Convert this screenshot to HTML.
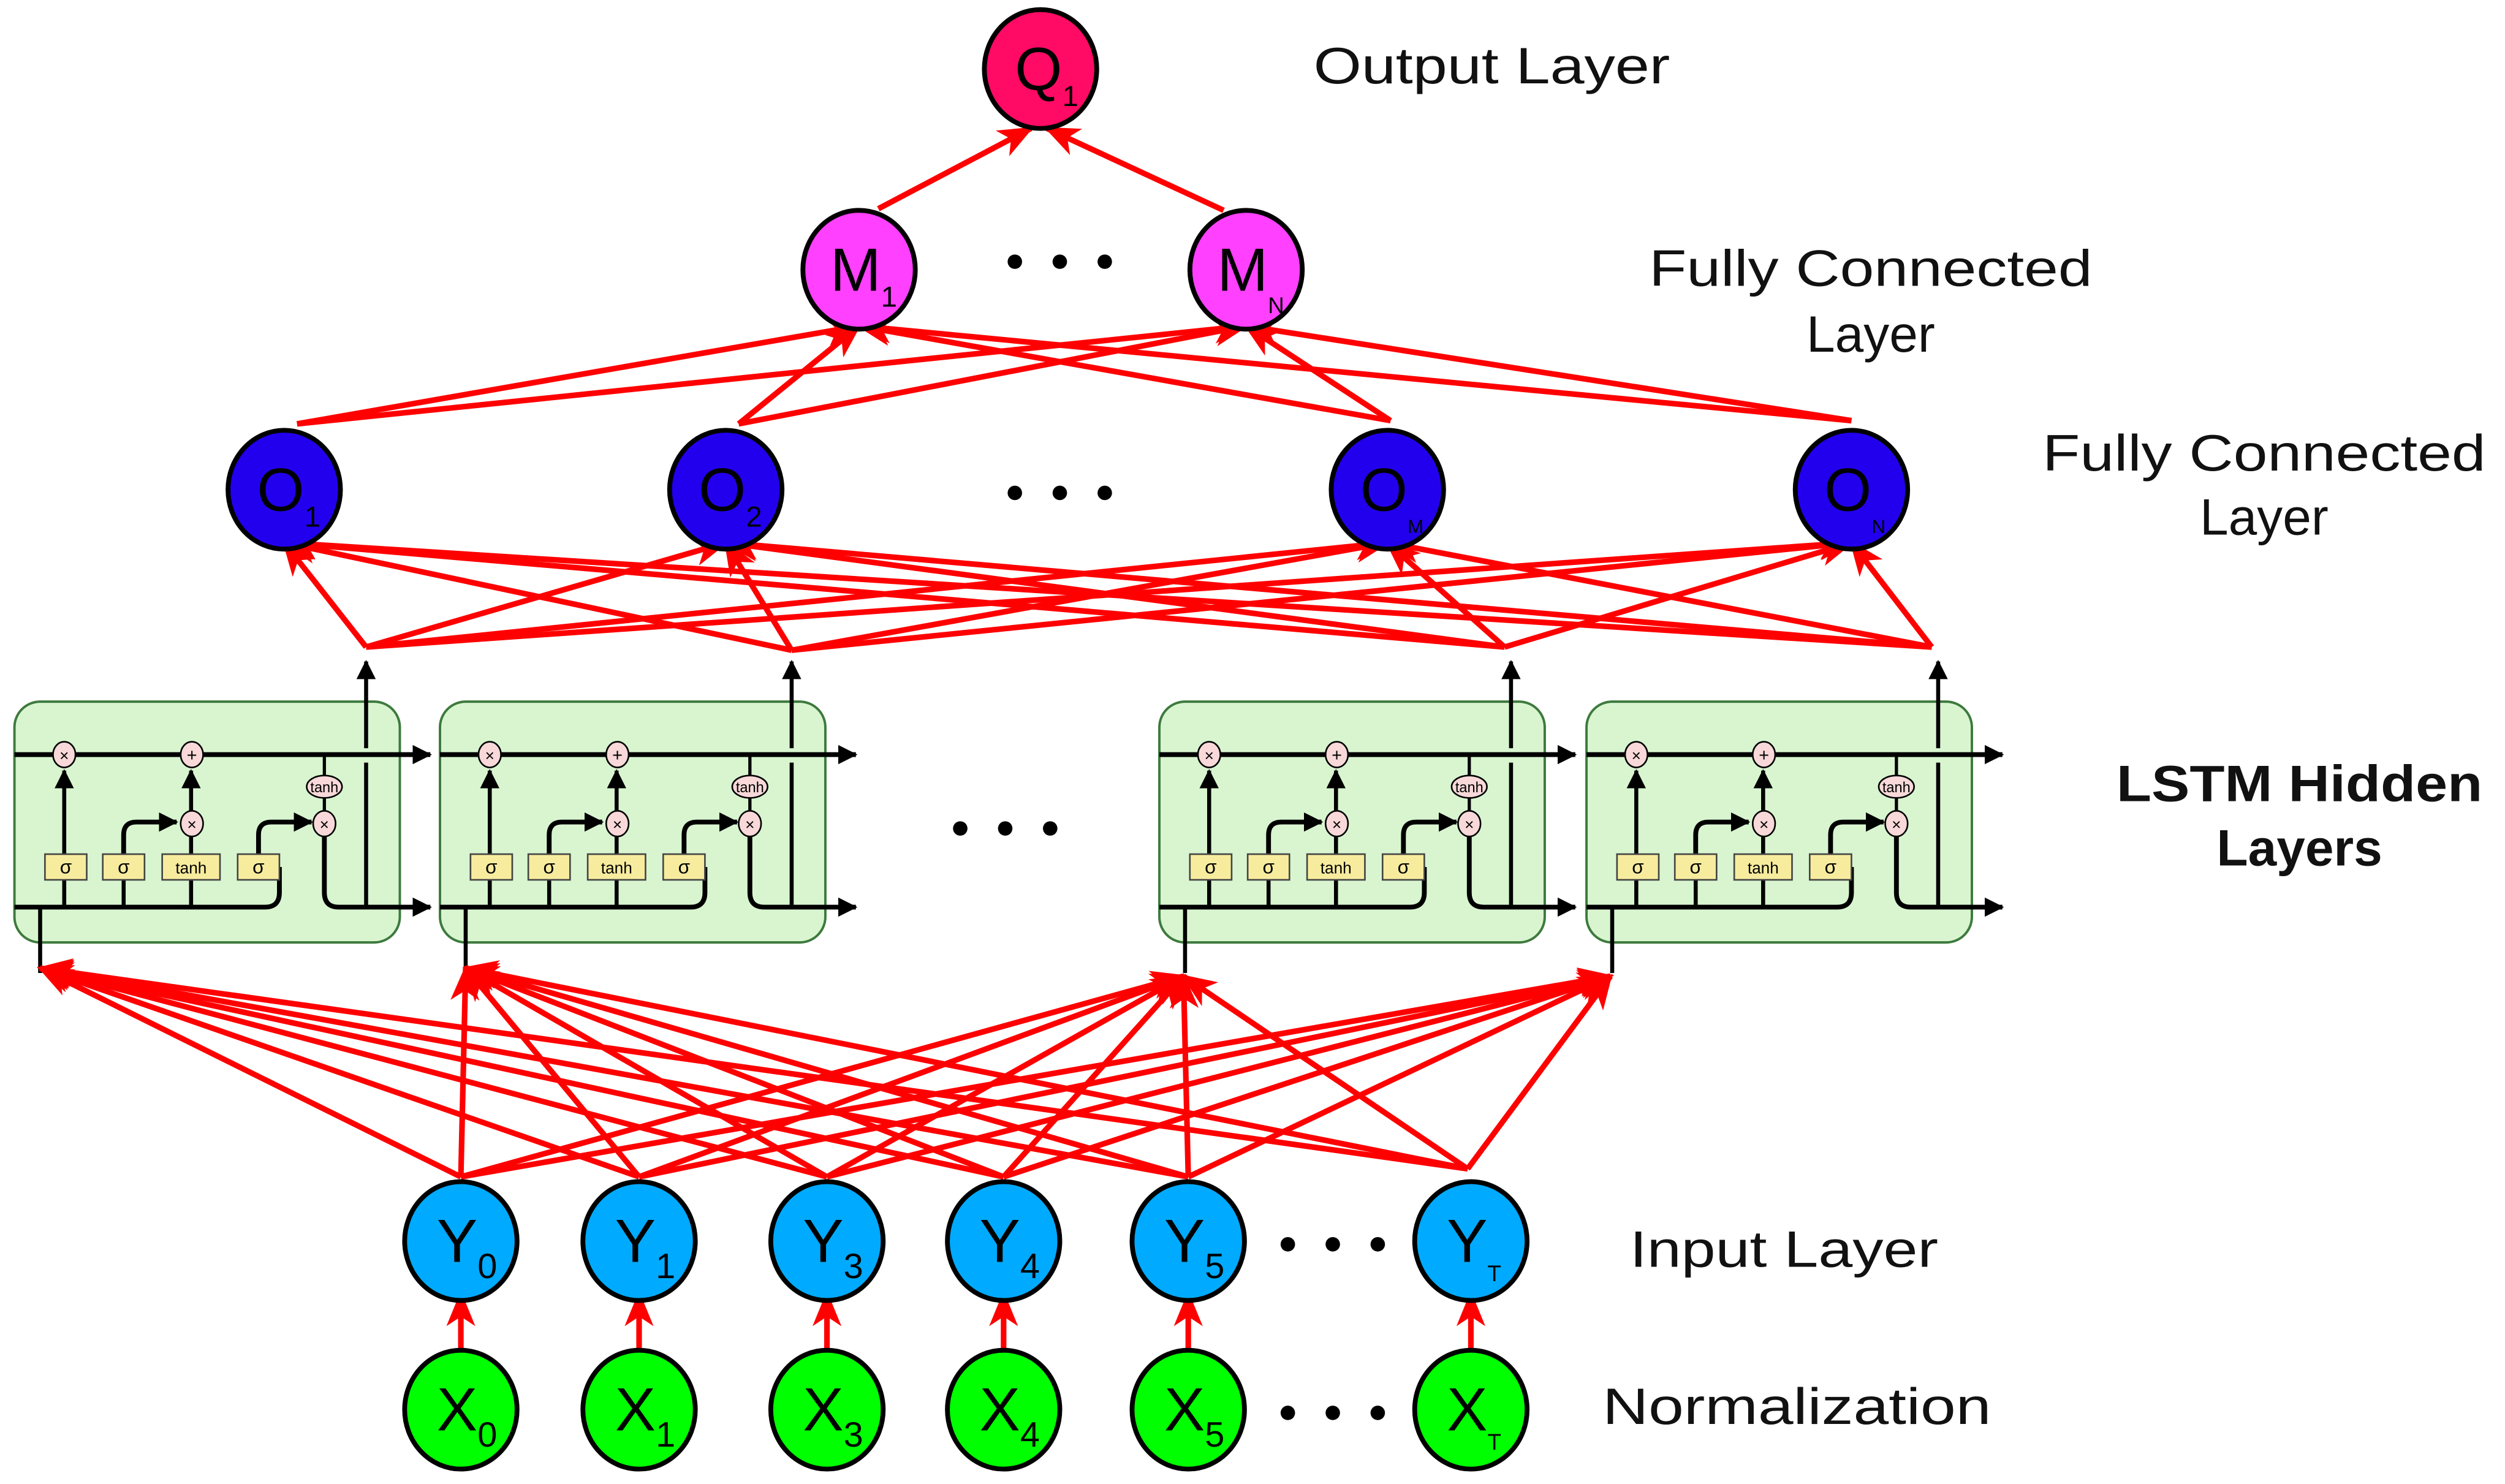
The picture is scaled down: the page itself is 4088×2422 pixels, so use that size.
<!DOCTYPE html>
<html><head><meta charset="utf-8"><style>
html,body{margin:0;padding:0;background:#fff;}
svg{display:block;}
text{font-family:"Liberation Sans",sans-serif;}
</style></head><body>
<svg width="4088" height="2422" viewBox="0 0 1560 924.3" preserveAspectRatio="none" xmlns="http://www.w3.org/2000/svg">
<defs>
<marker id="ra" markerUnits="userSpaceOnUse" markerWidth="22" markerHeight="18" refX="20" refY="9" orient="auto">
<path d="M0,0 L22,9 L0,18 L6,9 z" fill="#ff0000"/>
</marker>
<marker id="ba" markerUnits="userSpaceOnUse" markerWidth="12" markerHeight="12" refX="11" refY="6" orient="auto">
<path d="M0,0 L12,6 L0,12 z" fill="#000"/>
</marker>
<g id="cell">
<rect x="9" y="437" width="240" height="150" rx="16" fill="#d8f5d0" stroke="#3d7a3d" stroke-width="1.5"/>
<!-- cell state line -->
<line x1="9" y1="470" x2="268" y2="470" stroke="#000" stroke-width="3" marker-end="url(#ba)"/>
<!-- hidden line -->
<path d="M9,565 L165,565 Q174,565 174,556 L174,540" fill="none" stroke="#000" stroke-width="3"/>
<path d="M202,520 L202,556 Q202,565 211,565 L268,565" fill="none" stroke="#000" stroke-width="3" marker-end="url(#ba)"/>
<!-- output vertical -->
<line x1="228" y1="565" x2="228" y2="475" stroke="#000" stroke-width="2.5"/>
<line x1="228" y1="466" x2="228" y2="412" stroke="#000" stroke-width="2.5" marker-end="url(#ba)"/>
<!-- input vertical -->
<line x1="25" y1="565" x2="25" y2="606" stroke="#000" stroke-width="2.5"/>
<!-- gate verticals -->
<line x1="40" y1="565" x2="40" y2="480" stroke="#000" stroke-width="2.5" marker-end="url(#ba)"/>
<line x1="77" y1="565" x2="77" y2="540"/>
<line x1="77" y1="565" x2="77" y2="540" stroke="#000" stroke-width="2.5"/>
<line x1="119" y1="565" x2="119" y2="520" stroke="#000" stroke-width="2.5"/>
<line x1="119" y1="506" x2="119" y2="480" stroke="#000" stroke-width="2.5" marker-end="url(#ba)"/>
<path d="M77,540 L77,520 Q77,512 85,512 L110,512" fill="none" stroke="#000" stroke-width="3" marker-end="url(#ba)"/>
<path d="M161,540 L161,520 Q161,512 169,512 L194,512" fill="none" stroke="#000" stroke-width="3" marker-end="url(#ba)"/>
<line x1="202" y1="470" x2="202" y2="506" stroke="#000" stroke-width="2"/>
<!-- ops -->
<ellipse cx="40" cy="470" rx="7" ry="8" fill="#f8d8d8" stroke="#000" stroke-width="1"/>
<text x="40" y="474" font-size="10" text-anchor="middle">×</text>
<ellipse cx="119.5" cy="470" rx="7" ry="8" fill="#f8d8d8" stroke="#000" stroke-width="1"/>
<text x="119.5" y="474" font-size="11" text-anchor="middle">+</text>
<ellipse cx="119.5" cy="513" rx="7" ry="8" fill="#f8d8d8" stroke="#000" stroke-width="1"/>
<text x="119.5" y="517" font-size="10" text-anchor="middle">×</text>
<ellipse cx="202" cy="513" rx="7" ry="8" fill="#f8d8d8" stroke="#000" stroke-width="1"/>
<text x="202" y="517" font-size="10" text-anchor="middle">×</text>
<ellipse cx="202" cy="490" rx="11" ry="7" fill="#f8d8d8" stroke="#000" stroke-width="1"/>
<text x="202" y="493.5" font-size="9" text-anchor="middle">tanh</text>
<!-- gates -->
<rect x="28" y="532" width="26" height="16" fill="#f7ec9e" stroke="#444" stroke-width="1"/>
<text x="41" y="544" font-size="12" text-anchor="middle">σ</text>
<rect x="64" y="532" width="26" height="16" fill="#f7ec9e" stroke="#444" stroke-width="1"/>
<text x="77" y="544" font-size="12" text-anchor="middle">σ</text>
<rect x="101" y="532" width="36" height="16" fill="#f7ec9e" stroke="#444" stroke-width="1"/>
<text x="119" y="544" font-size="10" text-anchor="middle">tanh</text>
<rect x="148" y="532" width="26" height="16" fill="#f7ec9e" stroke="#444" stroke-width="1"/>
<text x="161" y="544" font-size="12" text-anchor="middle">σ</text>
</g>
</defs>

<use href="#cell"/>
<use href="#cell" transform="translate(265,0)"/>
<use href="#cell" transform="translate(713,0)"/>
<use href="#cell" transform="translate(979,0)"/>

<g stroke="#ff0000" stroke-width="3.5" fill="none" marker-end="url(#ra)">
<!-- X -> Y -->
<line x1="287" y1="843" x2="287" y2="806"/>
<line x1="398" y1="843" x2="398" y2="806"/>
<line x1="515" y1="843" x2="515" y2="806"/>
<line x1="625" y1="843" x2="625" y2="806"/>
<line x1="740" y1="843" x2="740" y2="806"/>
<line x1="916" y1="843" x2="916" y2="806"/>
<!-- Y -> LSTM inputs -->
<line x1="287" y1="733" x2="25" y2="603"/><line x1="287" y1="733" x2="290" y2="603"/><line x1="287" y1="733" x2="737" y2="608"/><line x1="287" y1="733" x2="1003" y2="608"/>
<line x1="398" y1="733" x2="25" y2="603"/><line x1="398" y1="733" x2="290" y2="603"/><line x1="398" y1="733" x2="737" y2="608"/><line x1="398" y1="733" x2="1003" y2="608"/>
<line x1="515" y1="733" x2="25" y2="603"/><line x1="515" y1="733" x2="290" y2="603"/><line x1="515" y1="733" x2="737" y2="608"/><line x1="515" y1="733" x2="1003" y2="608"/>
<line x1="625" y1="733" x2="25" y2="603"/><line x1="625" y1="733" x2="290" y2="603"/><line x1="625" y1="733" x2="737" y2="608"/><line x1="625" y1="733" x2="1003" y2="608"/>
<line x1="740" y1="733" x2="25" y2="603"/><line x1="740" y1="733" x2="290" y2="603"/><line x1="740" y1="733" x2="737" y2="608"/><line x1="740" y1="733" x2="1003" y2="608"/>
<line x1="914" y1="728" x2="25" y2="603"/><line x1="914" y1="728" x2="290" y2="603"/><line x1="914" y1="728" x2="737" y2="608"/><line x1="914" y1="728" x2="1003" y2="608"/>
<!-- LSTM outputs -> O -->
<line x1="228" y1="403" x2="177" y2="338"/><line x1="228" y1="403" x2="452" y2="338"/><line x1="228" y1="403" x2="864" y2="338"/><line x1="228" y1="403" x2="1153" y2="338"/>
<line x1="493" y1="405" x2="177" y2="338"/><line x1="493" y1="405" x2="452" y2="338"/><line x1="493" y1="405" x2="864" y2="338"/><line x1="493" y1="405" x2="1153" y2="338"/>
<line x1="937" y1="403" x2="177" y2="338"/><line x1="937" y1="403" x2="452" y2="338"/><line x1="937" y1="403" x2="864" y2="338"/><line x1="937" y1="403" x2="1153" y2="338"/>
<line x1="1203" y1="403" x2="177" y2="338"/><line x1="1203" y1="403" x2="452" y2="338"/><line x1="1203" y1="403" x2="864" y2="338"/><line x1="1203" y1="403" x2="1153" y2="338"/>
<!-- O -> M -->
<line x1="185" y1="264" x2="535" y2="203"/><line x1="185" y1="264" x2="776" y2="203"/>
<line x1="460" y1="264" x2="535" y2="203"/><line x1="460" y1="264" x2="776" y2="203"/>
<line x1="866" y1="262" x2="535" y2="203"/><line x1="866" y1="262" x2="776" y2="203"/>
<line x1="1153" y1="262" x2="535" y2="203"/><line x1="1153" y1="262" x2="776" y2="203"/>
<!-- M -> Q -->
<line x1="547" y1="130" x2="642" y2="80"/>
<line x1="762" y1="131" x2="652" y2="80"/>
</g>

<g stroke="#000" stroke-width="3">
<ellipse cx="648" cy="43" rx="35" ry="37" fill="#ff0a64"/>
<ellipse cx="535" cy="168" rx="35" ry="37" fill="#ff40ff"/>
<ellipse cx="776" cy="168" rx="35" ry="37" fill="#ff40ff"/>
<ellipse cx="177" cy="305" rx="35" ry="37" fill="#2200ee"/>
<ellipse cx="452" cy="305" rx="35" ry="37" fill="#2200ee"/>
<ellipse cx="864" cy="305" rx="35" ry="37" fill="#2200ee"/>
<ellipse cx="1153" cy="305" rx="35" ry="37" fill="#2200ee"/>
<ellipse cx="287" cy="773" rx="35" ry="37" fill="#00aaff"/>
<ellipse cx="398" cy="773" rx="35" ry="37" fill="#00aaff"/>
<ellipse cx="515" cy="773" rx="35" ry="37" fill="#00aaff"/>
<ellipse cx="625" cy="773" rx="35" ry="37" fill="#00aaff"/>
<ellipse cx="740" cy="773" rx="35" ry="37" fill="#00aaff"/>
<ellipse cx="916" cy="773" rx="35" ry="37" fill="#00aaff"/>
<ellipse cx="287" cy="878" rx="35" ry="37" fill="#00ff00"/>
<ellipse cx="398" cy="878" rx="35" ry="37" fill="#00ff00"/>
<ellipse cx="515" cy="878" rx="35" ry="37" fill="#00ff00"/>
<ellipse cx="625" cy="878" rx="35" ry="37" fill="#00ff00"/>
<ellipse cx="740" cy="878" rx="35" ry="37" fill="#00ff00"/>
<ellipse cx="916" cy="878" rx="35" ry="37" fill="#00ff00"/>
</g>

<g font-size="38" fill="#000">
<text x="632" y="56">Q<tspan font-size="18" dy="10">1</tspan></text>
<text x="517" y="181">M<tspan font-size="18" dy="10">1</tspan></text>
<text x="758" y="181">M<tspan font-size="14" dy="14">N</tspan></text>
<text x="160" y="318">O<tspan font-size="18" dy="10">1</tspan></text>
<text x="435" y="318">O<tspan font-size="18" dy="10">2</tspan></text>
<text x="847" y="318">O<tspan font-size="12" dy="14">M</tspan></text>
<text x="1136" y="318">O<tspan font-size="12" dy="14">N</tspan></text>
<text x="272" y="786">Y<tspan font-size="22" dy="10">0</tspan></text>
<text x="383" y="786">Y<tspan font-size="22" dy="10">1</tspan></text>
<text x="500" y="786">Y<tspan font-size="22" dy="10">3</tspan></text>
<text x="610" y="786">Y<tspan font-size="22" dy="10">4</tspan></text>
<text x="725" y="786">Y<tspan font-size="22" dy="10">5</tspan></text>
<text x="901" y="786">Y<tspan font-size="14" dy="12">T</tspan></text>
<text x="272" y="891">X<tspan font-size="22" dy="10">0</tspan></text>
<text x="383" y="891">X<tspan font-size="22" dy="10">1</tspan></text>
<text x="500" y="891">X<tspan font-size="22" dy="10">3</tspan></text>
<text x="610" y="891">X<tspan font-size="22" dy="10">4</tspan></text>
<text x="725" y="891">X<tspan font-size="22" dy="10">5</tspan></text>
<text x="901" y="891">X<tspan font-size="14" dy="12">T</tspan></text>
</g>

<g fill="#000">
<circle cx="632" cy="163" r="4.5"/><circle cx="660" cy="163" r="4.5"/><circle cx="688" cy="163" r="4.5"/>
<circle cx="632" cy="307" r="4.5"/><circle cx="660" cy="307" r="4.5"/><circle cx="688" cy="307" r="4.5"/>
<circle cx="598" cy="516" r="4.5"/><circle cx="626" cy="516" r="4.5"/><circle cx="654" cy="516" r="4.5"/>
<circle cx="802" cy="775" r="4.5"/><circle cx="830" cy="775" r="4.5"/><circle cx="858" cy="775" r="4.5"/>
<circle cx="802" cy="880" r="4.5"/><circle cx="830" cy="880" r="4.5"/><circle cx="858" cy="880" r="4.5"/>
</g>

<g font-size="32" fill="#111" text-anchor="middle">
<text x="929" y="52" textLength="222" lengthAdjust="spacingAndGlyphs">Output Layer</text>
<text x="1165" y="178" textLength="276" lengthAdjust="spacingAndGlyphs">Fully Connected</text>
<text x="1165" y="219">Layer</text>
<text x="1410" y="293" textLength="276" lengthAdjust="spacingAndGlyphs">Fully Connected</text>
<text x="1410" y="333">Layer</text>
<text x="1111" y="789" textLength="192" lengthAdjust="spacingAndGlyphs">Input Layer</text>
<text x="1119" y="887" textLength="242" lengthAdjust="spacingAndGlyphs">Normalization</text>
<text x="1432" y="499" font-weight="bold" textLength="228" lengthAdjust="spacingAndGlyphs">LSTM Hidden</text>
<text x="1432" y="539" font-weight="bold">Layers</text>
</g>
</svg>
</body></html>
